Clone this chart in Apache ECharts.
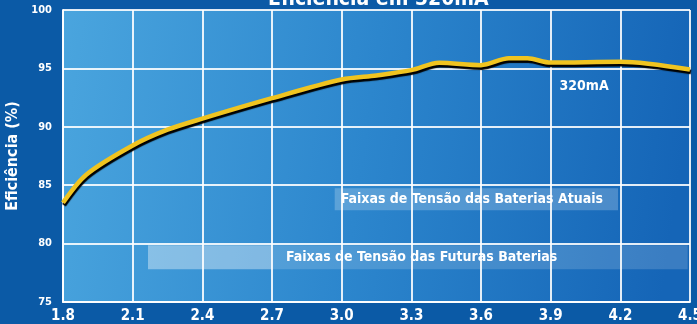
<!DOCTYPE html>
<html><head><meta charset="utf-8">
<script src="https://cdn.jsdelivr.net/npm/echarts@6/dist/echarts.min.js"></script>
<style>html,body{margin:0;padding:0;background:#0b5aa6;}#c{width:697px;height:324px;}</style>
</head><body><div id="c"></div>
<script>
const titleText = 'Eficiência em 320mA';
const yAxisName = 'Eficiência (%)';
const seriesName = '320mA';
const voltage = [1.8, 1.9, 2.1, 2.25, 2.4, 2.7, 3.0, 3.15, 3.3, 3.42, 3.6, 3.72, 3.8, 3.9, 4.2, 4.5];
const efficiency = [83.5, 85.9, 88.4, 89.75, 90.7, 92.45, 94.05, 94.4, 94.85, 95.48, 95.28, 95.86, 95.86, 95.5, 95.57, 94.9];
const bandAtual = { label: 'Faixas de Tensão das Baterias Atuais', x: [2.97, 4.19], y: [82.85, 84.73] };
const bandFutura = { label: 'Faixas de Tensão das Futuras Baterias', x: [2.166, 4.49], split: 2.7, y: [77.8, 79.85] };
const labelPos = [4.044, 93.48];

const font = "'DejaVu Sans Condensed','Liberation Sans Narrow','Roboto Condensed','DejaVu Sans',sans-serif";
const chart = echarts.init(document.getElementById('c'));
chart.setOption({
  backgroundColor: '#0b5aa6',
  animation: false,
  title: {
    text: titleText, left: 263, top: -16,
    textStyle: { color: '#ffffff', fontSize: 21, fontWeight: 'bold', fontFamily: font }
  },
  grid: {
    left: 63, right: 7, top: 10, bottom: 22, show: true, borderWidth: 0,
    outerBoundsMode: 'none', containLabel: false,
    backgroundColor: new echarts.graphic.LinearGradient(0, 0, 1, 0.3, [
      { offset: 0, color: '#4aa5de' },
      { offset: 0.5, color: '#2c86cd' },
      { offset: 1, color: '#1565b7' }
    ])
  },
  xAxis: {
    type: 'value', min: 1.8, max: 4.5, interval: 0.3,
    axisLine: { show: true, lineStyle: { color: 'rgba(255,255,255,0.9)', width: 2 } },
    axisTick: { show: false },
    axisLabel: { color: '#ffffff', fontSize: 15, fontWeight: 'bold', fontFamily: font, margin: 7,
      formatter: v => v.toFixed(1) },
    splitLine: { show: true, lineStyle: { color: 'rgba(255,255,255,0.88)', width: 2 } }
  },
  yAxis: {
    type: 'value', min: 75, max: 100, interval: 5,
    name: yAxisName, nameLocation: 'middle', nameGap: 32, nameRotate: 90,
    nameTextStyle: { color: '#ffffff', fontSize: 16, fontWeight: 'bold', fontFamily: font },
    axisLine: { show: true, lineStyle: { color: 'rgba(255,255,255,0.9)', width: 2 } },
    axisTick: { show: false },
    axisLabel: { color: '#ffffff', fontSize: 11, fontWeight: 'bold', fontFamily: font, margin: 11 },
    splitLine: { show: true, lineStyle: { color: 'rgba(255,255,255,0.88)', width: 2 } }
  },
  series: [{
    name: seriesName, type: 'line', smooth: 0.3, symbol: 'none',
    data: voltage.map((v, i) => [v, efficiency[i]]),
    lineStyle: { color: '#f0c420', width: 4.5, shadowColor: '#000000', shadowBlur: 1, shadowOffsetX: 1, shadowOffsetY: 2.5 },
    z: 5,
    markArea: {
      silent: true,
      data: [
        [{ xAxis: bandAtual.x[0], yAxis: bandAtual.y[0],
           itemStyle: { color: 'rgba(255,255,255,0.22)' },
           label: { show: true, position: 'insideLeft', distance: 6, formatter: bandAtual.label,
             color: '#ffffff', fontSize: 14, fontWeight: 'bold', fontFamily: font } },
         { xAxis: bandAtual.x[1], yAxis: bandAtual.y[1] }],
        [{ xAxis: bandFutura.x[0], yAxis: bandFutura.y[0],
           itemStyle: { color: 'rgba(255,255,255,0.38)' }, label: { show: false } },
         { xAxis: bandFutura.split, yAxis: bandFutura.y[1] }],
        [{ xAxis: bandFutura.split, yAxis: bandFutura.y[0],
           itemStyle: { color: 'rgba(255,255,255,0.16)' },
           label: { show: true, position: 'insideLeft', distance: 14, formatter: bandFutura.label,
             color: '#ffffff', fontSize: 14, fontWeight: 'bold', fontFamily: font } },
         { xAxis: bandFutura.x[1], yAxis: bandFutura.y[1] }]
      ]
    },
    markPoint: {
      silent: true, symbol: 'circle', symbolSize: 1,
      itemStyle: { color: 'rgba(0,0,0,0)' },
      data: [{ coord: labelPos, value: seriesName }],
      label: { show: true, position: 'inside', formatter: seriesName, color: '#ffffff', fontSize: 14, fontWeight: 'bold', fontFamily: font }
    }
  }]
});
</script></body></html>
